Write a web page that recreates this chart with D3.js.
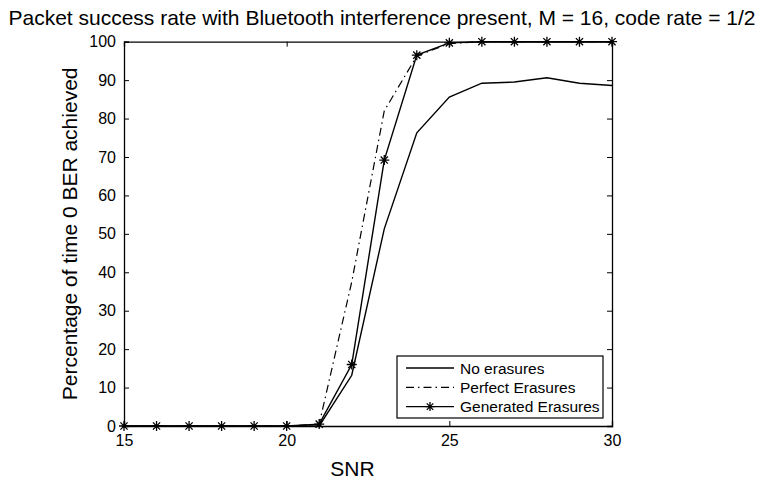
<!DOCTYPE html>
<html>
<head>
<meta charset="utf-8">
<script src="https://cdn.jsdelivr.net/npm/d3@7"></script>
<style>
body{margin:0;background:#fff}
svg text{font-family:"Liberation Sans",Arial,sans-serif;fill:#000}
</style>
</head>
<body>
<div id="chart"></div>
<script>
// valeurs
const snr = [15,16,17,18,19,20,21,22,23,24,25,26,27,28,29,30]
const noErasures = [0,0,0,0,0,0,0,13.2,51.3,76.3,85.6,89.2,89.5,90.6,89.2,88.6]
const perfectErasures = [0,0,0,0,0,0,0.5,37.5,82,96.3,99.5,100,100,100,100,100]
const generatedErasures = [0,0,0,0,0,0,0.5,16,69.2,96.5,99.7,100,100,100,100,100]
const xTicks = [15,20,25,30]
const yTicks = [0,10,20,30,40,50,60,70,80,90,100]
const legendLabels = ["No erasures","Perfect Erasures","Generated Erasures"]

const width=763, height=480
const mLeft=124, mRight=612, mTop=41.7, mBottom=426

const svg=d3.select("#chart").append("svg")
	.attr("width",width).attr("height",height)

let x=d3.scaleLinear().domain([15,30]).range([mLeft,mRight])
let y=d3.scaleLinear().domain([0,100]).range([mBottom,mTop])

// axes en boite, graduations vers l'interieur
let tick=5
svg.append("g").attr("transform",`translate(0,${mBottom})`)
	.call(d3.axisBottom(x).tickValues(xTicks).tickSize(-tick).tickPadding(tick+4))
svg.append("g").attr("transform",`translate(0,${mTop})`)
	.call(d3.axisTop(x).tickValues(xTicks).tickSize(-tick).tickFormat(""))
svg.append("g").attr("transform",`translate(${mLeft},0)`)
	.call(d3.axisLeft(y).tickValues(yTicks).tickSize(-tick).tickPadding(tick+3))
svg.append("g").attr("transform",`translate(${mRight},0)`)
	.call(d3.axisRight(y).tickValues(yTicks).tickSize(-tick).tickFormat(""))
svg.selectAll(".domain").attr("stroke","#000").attr("stroke-width",1.3)
svg.selectAll(".tick line").attr("stroke","#000").attr("stroke-width",1)
svg.selectAll(".tick text").style("font-size","16px").attr("fill","#000")

let line=d3.line().x((d,i)=>x(snr[i])).y(d=>y(d))

svg.append("path").datum(noErasures).attr("d",line)
	.attr("fill","none").attr("stroke","#000").attr("stroke-width",1.4)
svg.append("path").datum(perfectErasures).attr("d",line)
	.attr("fill","none").attr("stroke","#000").attr("stroke-width",1.2)
	.attr("stroke-dasharray","8,4,1.5,4")
svg.append("path").datum(generatedErasures).attr("d",line)
	.attr("fill","none").attr("stroke","#000").attr("stroke-width",1.4)

// marqueur etoile
function star(cx,cy,r){
	let d=r*0.72
	return `M${cx-r},${cy}L${cx+r},${cy}M${cx},${cy-r}L${cx},${cy+r}`+
		`M${cx-d},${cy-d}L${cx+d},${cy+d}M${cx-d},${cy+d}L${cx+d},${cy-d}`
}
svg.selectAll(".star").data(generatedErasures).enter().append("path")
	.attr("d",(d,i)=>star(x(snr[i]),y(d),5))
	.attr("stroke","#000").attr("stroke-width",1.3).attr("fill","none")

// titre et labels
svg.append("text").attr("x",382).attr("y",25).attr("text-anchor","middle")
	.style("font-size","21px").text("Packet success rate with Bluetooth interference present, M = 16, code rate = 1/2")
svg.append("text").attr("x",352.5).attr("y",476).attr("text-anchor","middle")
	.style("font-size","21px").text("SNR")
svg.append("text").attr("transform",`translate(77,${(mTop+mBottom)/2}) rotate(-90)`)
	.attr("text-anchor","middle").style("font-size","21px").text("Percentage of time 0 BER achieved")

// legende
let lg=svg.append("g").attr("transform","translate(397,356)")
lg.append("rect").attr("width",206).attr("height",62).attr("fill","#fff")
	.attr("stroke","#000").attr("stroke-width",1.2)
let styles=[null,"8,4,1.5,4",null]
legendLabels.forEach((t,i)=>{
	let yy=12+i*19.3
	lg.append("line").attr("x1",9).attr("x2",57).attr("y1",yy).attr("y2",yy)
		.attr("stroke","#000").attr("stroke-width",1.3)
		.attr("stroke-dasharray",styles[i])
	if(i==2) lg.append("path").attr("d",star(33,yy,4.5)).attr("stroke","#000").attr("stroke-width",1.3)
	lg.append("text").attr("x",63).attr("y",yy+5.5).style("font-size","15.5px").text(t)
})
</script>
</body>
</html>
